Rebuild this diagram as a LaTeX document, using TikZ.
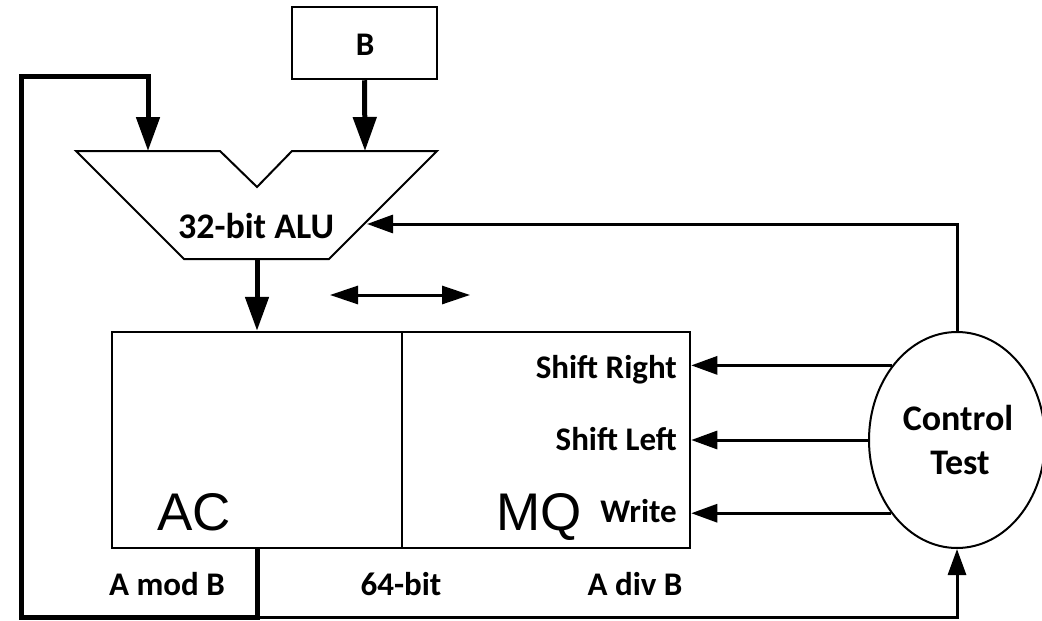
\documentclass[tikz,border=0pt]{standalone}
\usepackage{fontspec}
\setmainfont{Carlito}
\newfontfamily\acfont{Liberation Sans}
\usetikzlibrary{arrows.meta,shapes.geometric}
\begin{document}
\begin{tikzpicture}[x=1pt,y=-1pt,
  lbl/.style={inner sep=0pt,font=\fontsize{33}{36}\selectfont\bfseries},
  lblbig/.style={inner sep=0pt,font=\fontsize{36}{40}\selectfont\bfseries},
  big/.style={inner sep=0pt,font=\fontsize{53}{58}\selectfont\acfont},
  thickarr/.style={line width=5pt,-{Triangle[length=34pt,width=23pt]}},
  thinarr/.style={line width=3pt,-{Triangle[length=26pt,width=18pt]}},
  box/.style={draw,line width=2.5pt,inner sep=0pt}]
\useasboundingbox (0,0) rectangle (1042,621);
% B box
\node[box,minimum width=145pt,minimum height=72pt] (B) at (364.5,43) {};
\node[lbl,anchor=base] (Btxt) at (365,55) {B};
% ALU
\draw[line width=2pt,line join=miter] (76,151) -- (220,151) -- (257,187) -- (292,151) -- (437,151) -- (329,259) -- (184,259) -- cycle;
\coordinate (aluL) at (148,151);
\coordinate (aluR) at (365,151);
\coordinate (aluB) at (257,259);
\coordinate (aluE) at (367,224);
\node[lblbig,anchor=base] (alu) at (256,238) {32-bit ALU};
% registers
\node[box,minimum width=290pt,minimum height=216pt] (ac) at (257,440) {};
\node[box,minimum width=288pt,minimum height=216pt] (mq) at (546,440) {};
\node[big,anchor=base] (actxt) at (194,530) {AC};
\node[big,anchor=base east] (mqtxt) at (582,530) {MQ};
\node[lbl,anchor=base east] (sr) at (677,378) {Shift Right};
\node[lbl,anchor=base east] (sl) at (677,450) {Shift Left};
\node[lbl,anchor=base east] (wr) at (677,522) {Write};
% control
\node[draw,line width=2pt,ellipse,minimum width=176pt,minimum height=216pt,inner sep=0pt] (ctl) at (957,440) {};
\node[lblbig,anchor=base] (ctl1) at (958,430) {Control};
\node[lblbig,anchor=base] (ctl2) at (960,474) {Test};
% bottom labels
\node[lbl,anchor=base] (amod) at (167,595) {A mod B};
\node[lbl,anchor=base] (b64) at (401,595) {64-bit};
\node[lbl,anchor=base] (adiv) at (635,595) {A div B};
% arrows
\draw[thickarr] (B.south) -- (aluR);
\draw[thickarr] (aluB) -- (ac.north);
\coordinate (bot) at (257,617);
\coordinate (botL) at (21,617);
\coordinate (topL) at (21,76);
\coordinate (topR) at (148,76);
\draw[thickarr,line join=miter] (ac.south) -- (bot) -- (botL) -- (topL) -- (topR) -- (aluL);
\draw[thinarr] (bot) -| (ctl.south);
\draw[thinarr] (ctl.north) |- (aluE);
\draw[thinarr] (ctl.131.6) -- (ctl.131.6 -| mq.east);
\draw[thinarr] (ctl.west) -- (ctl.west -| mq.east);
\draw[thinarr] (ctl.228.4) -- (ctl.228.4 -| mq.east);
\coordinate (da1) at (330,295);
\coordinate (da2) at (470,295);
\draw[line width=3pt,{Triangle[length=28pt,width=18pt]}-{Triangle[length=28pt,width=18pt]}] (da1) -- (da2);
\end{tikzpicture}
\end{document}
